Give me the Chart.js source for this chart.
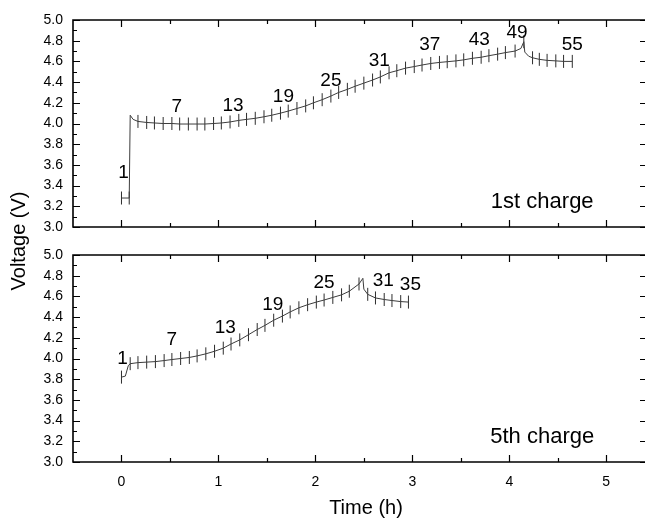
<!DOCTYPE html>
<html lang="en">
<head>
  <meta charset="UTF-8">
  <title>Voltage vs time, 1st and 5th charge</title>
  <script src="https://cdn.jsdelivr.net/npm/chart.js@4.4.1/dist/chart.umd.min.js"></script>
  <style>
    body { margin: 0; background: #fff; }
    #wrap { position: relative; width: 645px; height: 520px; overflow: hidden; }
    #wrap canvas { position: absolute; left: 0; top: 0; }
  </style>
</head>
<body>
  <div id="wrap">
    <canvas id="fifthChart" width="645" height="520"></canvas>
    <canvas id="firstChart" width="645" height="520"></canvas>
  </div>

  <script>
    // axis ticks
    const timeTicks = [0, 1, 2, 3, 4, 5];
    const timeMinor = [0.5, 1.5, 2.5, 3.5, 4.5];
    const voltTicks = [3.0, 3.2, 3.4, 3.6, 3.8, 4.0, 4.2, 4.4, 4.6, 4.8, 5.0];
    const voltMinor = [3.1, 3.3, 3.5, 3.7, 3.9, 4.1, 4.3, 4.5, 4.7, 4.9];

    // 1st charge: scan markers (time h, voltage V)
    const firstScanT = [0.00, 0.08, 0.17, 0.26, 0.34, 0.43, 0.52, 0.60, 0.69, 0.78,
                        0.86, 0.95, 1.03, 1.12, 1.21, 1.29, 1.38, 1.47, 1.55, 1.64,
                        1.72, 1.81, 1.90, 1.98, 2.07, 2.16, 2.24, 2.33, 2.41, 2.50,
                        2.59, 2.67, 2.76, 2.84, 2.93, 3.02, 3.10, 3.19, 3.28, 3.36,
                        3.45, 3.53, 3.62, 3.71, 3.79, 3.88, 3.96, 4.06, 4.15, 4.24,
                        4.31, 4.39, 4.48, 4.56, 4.65];
    const firstScanV = [3.28, 3.28, 4.02, 4.01, 4.005, 4.00, 4.00, 3.995, 3.995, 3.995,
                        3.995, 4.00, 4.005, 4.015, 4.03, 4.04, 4.05, 4.065, 4.08, 4.10,
                        4.12, 4.145, 4.17, 4.20, 4.23, 4.265, 4.30, 4.33, 4.36, 4.39,
                        4.42, 4.45, 4.49, 4.51, 4.535, 4.55, 4.565, 4.58, 4.59, 4.597,
                        4.605, 4.615, 4.63, 4.64, 4.655, 4.67, 4.685, 4.70, 4.79, 4.635,
                        4.62, 4.61, 4.605, 4.60, 4.60];
    // extra points of the voltage trace between scans
    const firstCurveT = [0.09, 0.12, 4.12, 4.16, 4.20];
    const firstCurveV = [4.08, 4.04, 4.725, 4.69, 4.65];
    const firstLabels = ['1', '7', '13', '19', '25', '31', '37', '43', '49', '55'];
    const firstLabelT = [0.02, 0.57, 1.15, 1.67, 2.16, 2.66, 3.18, 3.69, 4.08, 4.65];
    const firstLabelV = [3.52, 4.16, 4.17, 4.26, 4.41, 4.61, 4.76, 4.81, 4.88, 4.76];

    // 5th charge
    const fifthScanT = [0.00, 0.09, 0.17, 0.26, 0.35, 0.44, 0.52, 0.61, 0.70, 0.78,
                        0.87, 0.96, 1.05, 1.13, 1.22, 1.31, 1.40, 1.48, 1.57, 1.66,
                        1.74, 1.83, 1.92, 2.01, 2.09, 2.18, 2.27, 2.35, 2.45, 2.54,
                        2.62, 2.71, 2.79, 2.88, 2.96];
    const fifthScanV = [3.82, 3.95, 3.96, 3.965, 3.97, 3.98, 3.99, 4.00, 4.01, 4.025,
                        4.045, 4.07, 4.10, 4.14, 4.18, 4.23, 4.28, 4.32, 4.37, 4.41,
                        4.45, 4.49, 4.52, 4.545, 4.565, 4.59, 4.615, 4.65, 4.72, 4.62,
                        4.585, 4.57, 4.56, 4.55, 4.545];
    const fifthCurveT = [0.04, 0.07, 2.49, 2.50];
    const fifthCurveV = [3.83, 3.93, 4.775, 4.67];
    const fifthLabels = ['1', '7', '13', '19', '25', '31', '35'];
    const fifthLabelT = [0.01, 0.52, 1.07, 1.56, 2.09, 2.70, 2.98];
    const fifthLabelV = [4.00, 4.18, 4.30, 4.52, 4.73, 4.75, 4.71];

    const FONT = '"Liberation Sans", Arial, sans-serif';

    function panel(id, o) {
      const marks = o.scanT.map((t, i) => ({ x: t, y: o.scanV[i] }));
      const trace = marks.concat(o.curveT.map((t, i) => ({ x: t, y: o.curveV[i] })))
                         .sort((a, b) => a.x - b.x);

      const frame = {
        id: 'frame',
        afterDatasetsDraw(chart) {
          const { ctx, chartArea: a, scales: { x, y } } = chart;
          ctx.save();
          ctx.strokeStyle = '#000';
          ctx.lineWidth = 1.2;
          ctx.beginPath();
          const seg = (x1, y1, x2, y2) => { ctx.moveTo(x1, y1); ctx.lineTo(x2, y2); };
          timeTicks.forEach(v => {
            const px = Math.round(x.getPixelForValue(v)) + 0.5;
            seg(px, a.bottom, px, a.bottom - 7);
            seg(px, a.top, px, a.top + 7);
          });
          timeMinor.forEach(v => {
            const px = Math.round(x.getPixelForValue(v)) + 0.5;
            seg(px, a.bottom, px, a.bottom - 4);
            seg(px, a.top, px, a.top + 4);
          });
          voltTicks.forEach(v => {
            const py = Math.round(y.getPixelForValue(v)) + 0.5;
            seg(a.left, py, a.left + 7, py);
            seg(a.right, py, a.right - 5, py);
          });
          voltMinor.forEach(v => {
            const py = Math.round(y.getPixelForValue(v)) + 0.5;
            seg(a.left, py, a.left + 4, py);
          });
          ctx.stroke();
          ctx.lineWidth = 1.6;
          ctx.beginPath();
          ctx.moveTo(a.right + 2, a.top);
          ctx.lineTo(a.left, a.top);
          ctx.lineTo(a.left, a.bottom);
          ctx.lineTo(a.right + 2, a.bottom);
          ctx.stroke();

          ctx.fillStyle = '#000';
          ctx.textAlign = 'center';
          ctx.textBaseline = 'middle';
          ctx.font = '19px ' + FONT;
          o.labels.forEach((s, i) => {
            ctx.fillText(s, x.getPixelForValue(o.labelT[i]), y.getPixelForValue(o.labelV[i]));
          });
          ctx.font = '22px ' + FONT;
          ctx.fillText(o.name, x.getPixelForValue(4.34), y.getPixelForValue(3.24));
          ctx.font = '20px ' + FONT;
          if (o.xTitle) {
            ctx.fillText(o.xTitle, 366, 508);
          }
          if (o.yTitle) {
            ctx.translate(19, 241);
            ctx.rotate(-Math.PI / 2);
            ctx.fillText(o.yTitle, 0, 0);
          }
          ctx.restore();
        }
      };

      return new Chart(document.getElementById(id), {
        type: 'line',
        data: {
          datasets: [
            { data: trace, borderColor: '#3c3c3c', borderWidth: 1, pointRadius: 0, tension: 0 },
            { data: marks, showLine: false, pointStyle: 'line', rotation: 90, pointRadius: 6.5,
              pointBorderColor: '#2e2e2e', pointBorderWidth: 1 }
          ]
        },
        options: {
          responsive: false,
          animation: false,
          events: [],
          layout: { autoPadding: false, padding: { top: o.top, bottom: o.bottom, left: 0, right: 0 } },
          plugins: { legend: { display: false }, tooltip: { enabled: false } },
          scales: {
            x: {
              type: 'linear', min: -0.5, max: 5.4, display: o.showX,
              afterBuildTicks: s => { s.ticks = timeTicks.map(v => ({ value: v })); },
              afterFit: s => { s.height = o.showX ? 58 : 0; },
              grid: { display: false, drawTicks: false },
              border: { display: false },
              ticks: { padding: 12, color: '#000', font: { size: 14, family: FONT } }
            },
            y: {
              min: 3, max: 5,
              afterBuildTicks: s => { s.ticks = voltTicks.map(v => ({ value: v })); },
              afterFit: s => { s.width = 73; },
              grid: { display: false, drawTicks: false },
              border: { display: false },
              ticks: { padding: 10, autoSkip: false, color: '#000', font: { size: 14, family: FONT },
                       callback: v => v.toFixed(1) }
            }
          }
        },
        plugins: [frame]
      });
    }

    panel('fifthChart', {
      scanT: fifthScanT, scanV: fifthScanV, curveT: fifthCurveT, curveV: fifthCurveV,
      labels: fifthLabels, labelT: fifthLabelT, labelV: fifthLabelV,
      name: '5th charge', top: 255, bottom: 0, showX: true, xTitle: 'Time (h)'
    });

    panel('firstChart', {
      scanT: firstScanT, scanV: firstScanV, curveT: firstCurveT, curveV: firstCurveV,
      labels: firstLabels, labelT: firstLabelT, labelV: firstLabelV,
      name: '1st charge', top: 20, bottom: 293, showX: false, yTitle: 'Voltage (V)'
    });
  </script>
</body>
</html>
